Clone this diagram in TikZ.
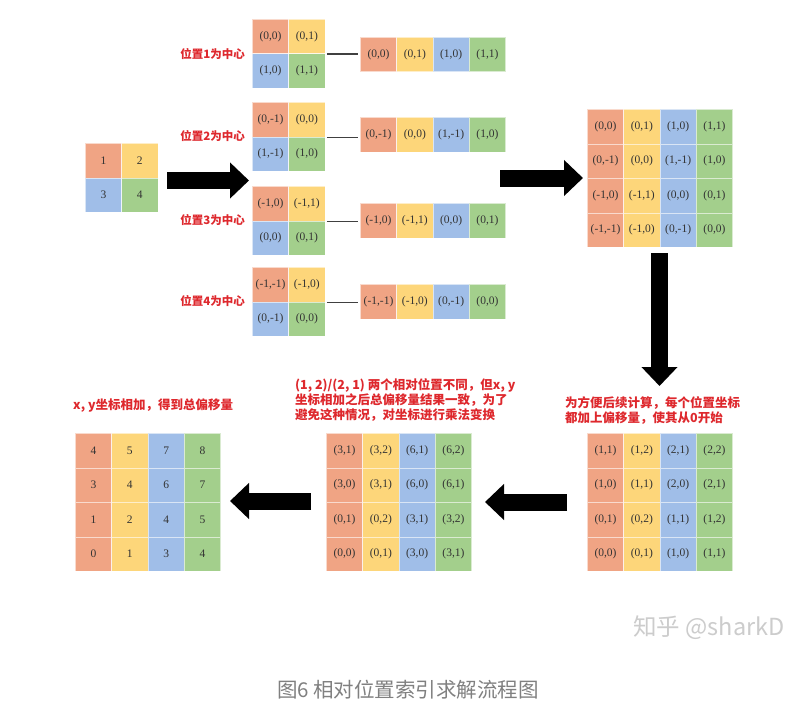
\documentclass[tikz,border=0pt]{standalone}
\usepackage{fontspec}
\setmainfont{Liberation Serif}
\newfontfamily\cjk{Noto Sans CJK SC}
\usepackage{tikz}
\usetikzlibrary{arrows.meta}

\definecolor{cOrange}{RGB}{240,164,132}
\definecolor{cYellow}{RGB}{253,214,122}
\definecolor{cBlue}{RGB}{160,190,232}
\definecolor{cGreen}{RGB}{163,207,140}
\definecolor{txtRed}{RGB}{222,40,45}

\tikzset{
	cell/.style={draw=white, draw opacity=0.6, line width=0.8pt, minimum width=36.3pt, minimum height=34.5pt,
		inner sep=0pt, anchor=north west, text=black!80, font=\fontsize{11.5}{13}\selectfont},
	centertag/.style={text=txtRed, font=\cjk\bfseries\fontsize{11.5}{14}\selectfont, anchor=east, inner sep=0pt},
	redtext/.style={text=txtRed, font=\cjk\bfseries\fontsize{12.5}{15}\selectfont, align=left, anchor=north west, inner sep=0pt},
	link/.style={draw=black!75, line width=1.6pt, shorten <=1.5pt, shorten >=2pt},
	fatarrow/.style={line width=17pt, -{Triangle[length=19pt,width=35pt]}}
}

% one row of four cells
\newcommand{\cellrow}[7]{%
	\node[cell,fill=cOrange] (#1-1) at (#2,#3) {#4};
	\node[cell,fill=cYellow] (#1-2) at (#2+36.3,#3) {#5};
	\node[cell,fill=cBlue] (#1-3) at (#2+72.6,#3) {#6};
	\node[cell,fill=cGreen] (#1-4) at (#2+108.9,#3) {#7};
}
% two by two cells
\newcommand{\cellquad}[7]{%
	\node[cell,fill=cOrange] (#1-1) at (#2,#3) {#4};
	\node[cell,fill=cYellow] (#1-2) at (#2+36.3,#3) {#5};
	\node[cell,fill=cBlue] (#1-3) at (#2,#3+34.5) {#6};
	\node[cell,fill=cGreen] (#1-4) at (#2+36.3,#3+34.5) {#7};
}

\begin{document}
\begin{tikzpicture}[x=1pt,y=-1pt]
	\path[fill=white] (0,0) rectangle (809,725);
	\useasboundingbox (0,0) rectangle (809,725);

	% start
	\cellquad{P}{85}{143}{1}{2}{3}{4}

	% each position as centre
	\cellquad{C1}{252}{19}{(0,0)}{(0,1)}{(1,0)}{(1,1)}
	\cellquad{C2}{252}{102}{(0,-1)}{(0,0)}{(1,-1)}{(1,0)}
	\cellquad{C3}{252}{186}{(-1,0)}{(-1,1)}{(0,0)}{(0,1)}
	\cellquad{C4}{252}{267}{(-1,-1)}{(-1,0)}{(0,-1)}{(0,0)}
	\node[centertag] (L1) at (245,54) {位置1为中心};
	\node[centertag] (L2) at (245,136) {位置2为中心};
	\node[centertag] (L3) at (245,220) {位置3为中心};
	\node[centertag] (L4) at (245,301) {位置4为中心};

	\cellrow{F1}{360}{37}{(0,0)}{(0,1)}{(1,0)}{(1,1)}
	\cellrow{F2}{360}{117}{(0,-1)}{(0,0)}{(1,-1)}{(1,0)}
	\cellrow{F3}{360}{203}{(-1,0)}{(-1,1)}{(0,0)}{(0,1)}
	\cellrow{F4}{360}{284}{(-1,-1)}{(-1,0)}{(0,-1)}{(0,0)}
	\draw[link] (C1-2.south east) -- (C1-2.south east -| F1-1.west);
	\draw[link] (C2-2.south east) -- (C2-2.south east -| F2-1.west);
	\draw[link] (C3-2.south east) -- (C3-2.south east -| F3-1.west);
	\draw[link] (C4-2.south east) -- (C4-2.south east -| F4-1.west);

	% relative positions
	\cellrow{R1}{587}{109}{(0,0)}{(0,1)}{(1,0)}{(1,1)}
	\cellrow{R2}{587}{143.5}{(0,-1)}{(0,0)}{(1,-1)}{(1,0)}
	\cellrow{R3}{587}{178}{(-1,0)}{(-1,1)}{(0,0)}{(0,1)}
	\cellrow{R4}{587}{212.5}{(-1,-1)}{(-1,0)}{(0,-1)}{(0,0)}

	% shifted
	\node[redtext] (N1) at (565,396) {为方便后续计算，每个位置坐标\\都加上偏移量，使其从0开始};
	\cellrow{S1}{587}{433}{(1,1)}{(1,2)}{(2,1)}{(2,2)}
	\cellrow{S2}{587}{467.5}{(1,0)}{(1,1)}{(2,0)}{(2,1)}
	\cellrow{S3}{587}{502}{(0,1)}{(0,2)}{(1,1)}{(1,2)}
	\cellrow{S4}{587}{536.5}{(0,0)}{(0,1)}{(1,0)}{(1,1)}

	% multiplied
	\node[redtext] (N2) at (295,378) {(1, 2)/(2, 1) 两个相对位置不同，但x, y\\坐标相加之后总偏移量结果一致，为了\\避免这种情况，对坐标进行乘法变换};
	\cellrow{M1}{326}{433}{(3,1)}{(3,2)}{(6,1)}{(6,2)}
	\cellrow{M2}{326}{467.5}{(3,0)}{(3,1)}{(6,0)}{(6,1)}
	\cellrow{M3}{326}{502}{(0,1)}{(0,2)}{(3,1)}{(3,2)}
	\cellrow{M4}{326}{536.5}{(0,0)}{(0,1)}{(3,0)}{(3,1)}

	% summed
	\node[redtext] (N3) at (73,399) {x, y坐标相加，得到总偏移量};
	\cellrow{T1}{75}{433}{4}{5}{7}{8}
	\cellrow{T2}{75}{467.5}{3}{4}{6}{7}
	\cellrow{T3}{75}{502}{1}{2}{4}{5}
	\cellrow{T4}{75}{536.5}{0}{1}{3}{4}

	% big arrows
	\coordinate (a1s) at (167,180.5);	\coordinate (a1e) at (249,180.5);
	\coordinate (a2s) at (500,178);	\coordinate (a2e) at (583,178);
	\coordinate (a3s) at (659.5,253);	\coordinate (a3e) at (659.5,386);
	\coordinate (a4s) at (567,502);	\coordinate (a4e) at (485,502);
	\coordinate (a5s) at (311,501);	\coordinate (a5e) at (230,501);
	\draw[fatarrow] (a1s) -- (a1e);
	\draw[fatarrow] (a2s) -- (a2e);
	\draw[fatarrow] (a3s) -- (a3e);
	\draw[fatarrow] (a4s) -- (a4e);
	\draw[fatarrow] (a5s) -- (a5e);

	\node[text=black!20, font=\cjk\fontsize{23.5}{26}\selectfont] (wm) at (709,628) {知乎 @sharkD};
	\node[text=black!50, font=\cjk\fontsize{20.5}{24}\selectfont] (cap) at (408,690) {图6 相对位置索引求解流程图};
\end{tikzpicture}
\end{document}
